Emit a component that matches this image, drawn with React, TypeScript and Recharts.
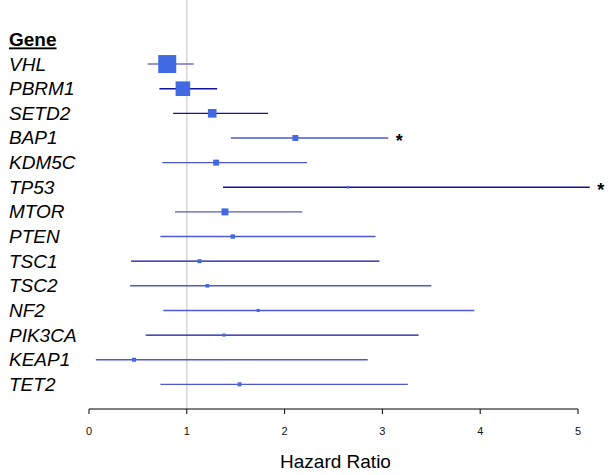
import { ScatterChart, Scatter, XAxis, YAxis, ZAxis, ErrorBar, ReferenceLine, ReferenceDot } from 'recharts';

const GENES = ['VHL', 'PBRM1', 'SETD2', 'BAP1', 'KDM5C', 'TP53', 'MTOR', 'PTEN', 'TSC1', 'TSC2', 'NF2', 'PIK3CA', 'KEAP1', 'TET2'];
const HR = [0.80, 0.96, 1.26, 2.11, 1.30, 2.65, 1.39, 1.47, 1.13, 1.21, 1.73, 1.38, 0.46, 1.54];
const LOWER = [0.60, 0.72, 0.86, 1.45, 0.75, 1.37, 0.88, 0.73, 0.43, 0.42, 0.76, 0.58, 0.07, 0.73];
const UPPER = [1.07, 1.31, 1.83, 3.06, 2.23, 5.12, 2.18, 2.93, 2.97, 3.50, 3.94, 3.37, 2.85, 3.26];
// relative weight of each gene (box area)
const WEIGHTS = [100, 66, 23, 11, 11, 2, 15, 6, 5, 4, 3, 3, 5, 5];
const SIGNIFICANT = [false, false, false, true, false, true, false, false, false, false, false, false, false, false];
// which colour group the CI line is drawn in
const GROUP = ['vhl', 'dark', 'dark', 'light', 'light', 'dark', 'light', 'light', 'dark', 'light', 'light', 'dark', 'light', 'light'];
const X_TICKS = [0, 1, 2, 3, 4, 5];

const rows = GENES.map((gene, i) => ({
  gene,
  row: i + 1,
  hr: HR[i],
  w: WEIGHTS[i],
  err: [HR[i] - LOWER[i], UPPER[i] - HR[i]],
  group: GROUP[i],
}));
const stars = GENES.map((gene, i) => ({ gene, row: i + 1, upper: UPPER[i] })).filter((_, i) => SIGNIFICANT[i]);

const LINE_COLORS: Record<string, string> = { vhl: '#7472cc', dark: '#12129c', light: '#4f58d0' };
const FONT = "Arial, 'Liberation Sans', sans-serif";

const Box = (props: any) => {
  const { cx, cy, width, size } = props;
  const side = size != null ? Math.sqrt(size) : (Math.sqrt(Math.PI) * width) / 2;
  return <rect x={cx - side / 2} y={cy - side / 2} width={side} height={side} fill="#4169e1" />;
};

const Star = (props: any) => (
  <text x={props.cx + 11} y={props.cy + 9} fontSize={18} fontWeight="bold" fill="#000" textAnchor="middle" fontFamily={FONT}>
    *
  </text>
);

const GeneTick = (props: any) => {
  const { y, payload } = props;
  const v = payload.value;
  if (v === 0) {
    return (
      <text x={9} y={y + 7} fontSize={19} fontWeight="bold" textDecoration="underline" fill="#000" fontFamily={FONT}>
        Gene
      </text>
    );
  }
  return (
    <text x={9} y={y + 6.5} fontSize={19} fontStyle="italic" fill="#000" fontFamily={FONT}>
      {GENES[v - 1]}
    </text>
  );
};

export default function App() {
  const groups = ['vhl', 'dark', 'light'];
  return (
    <div style={{ position: 'absolute', left: 0, top: 0, background: '#fff' }}>
      <ScatterChart width={614} height={475} margin={{ top: 0, right: 36, bottom: 0, left: 0 }}>
        <XAxis
          type="number"
          dataKey="hr"
          domain={[0, 5]}
          ticks={X_TICKS}
          interval={0}
          allowDataOverflow
          height={66}
          tickSize={5}
          tickMargin={13}
          axisLine={{ stroke: '#000', strokeWidth: 1 }}
          tickLine={{ stroke: '#000', strokeWidth: 1 }}
          tick={{ fill: '#111', fontSize: 11, fontFamily: FONT }}
          label={{
            content: ({ viewBox }: any) => (
              <text x={viewBox.x + viewBox.width / 2 + 2} y={viewBox.y + 59} textAnchor="middle" fontSize={19} fill="#000" fontFamily={FONT}>
                Hazard Ratio
              </text>
            ),
          }}
        />
        <YAxis
          type="number"
          dataKey="row"
          domain={[-1.6, 15]}
          reversed
          allowDataOverflow
          ticks={[0, ...GENES.map((_, i) => i + 1)]}
          interval={0}
          width={89}
          axisLine={false}
          tickLine={false}
          tick={<GeneTick />}
        />
        <ZAxis type="number" dataKey="w" domain={[0, 100]} range={[0, 324]} />
        <ReferenceLine x={1} stroke="#d6d6d6" strokeWidth={1.5} />
        {groups.map((g) => (
          <Scatter key={g} data={rows.filter((r) => r.group === g)} shape={<Box />} isAnimationActive={false}>
            <ErrorBar dataKey="err" direction="x" width={0} stroke={LINE_COLORS[g]} strokeWidth={1.4} />
          </Scatter>
        ))}
        {stars.map((s) => (
          <ReferenceDot key={s.gene} x={s.upper} y={s.row} ifOverflow="visible" shape={<Star />} />
        ))}
      </ScatterChart>
    </div>
  );
}
